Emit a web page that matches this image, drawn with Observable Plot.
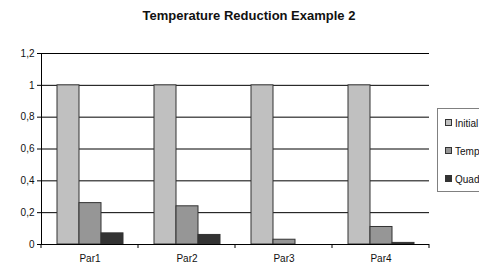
<!DOCTYPE html>
<html>
<head>
<meta charset="utf-8">
<script src="https://cdn.jsdelivr.net/npm/d3@7"></script>
<script src="https://cdn.jsdelivr.net/npm/@observablehq/plot@0.6"></script>
<style>
  html, body { margin: 0; padding: 0; background: #fff; }
  #wrap { position: relative; width: 479px; height: 267px; overflow: hidden; background: #fff;
          font-family: Arial, "Liberation Sans", sans-serif; color: #111; }
  #title { position: absolute; left: 0; width: 498px; top: 9px; text-align: center;
           font-weight: bold; font-size: 13px; line-height: 14px; }
  #chart { position: absolute; left: 0; top: 0; }
  #legend { position: absolute; left: 437px; top: 108px; width: 80px; height: 82px;
            border: 1px solid #808080; background: #fff; font-size: 10px; }
  .item { position: absolute; left: 7px; height: 12px; line-height: 12px; white-space: nowrap; }
  .sw { display: inline-block; width: 5px; height: 5px; border: 1px solid #333; margin-right: 3px; vertical-align: 1px; }
</style>
</head>
<body>
<div id="wrap">
  <div id="chart"></div>
  <div id="title">Temperature Reduction Example 2</div>
  <div id="legend"></div>
</div>
<script>
const categories = ["Par1", "Par2", "Par3", "Par4"];
const seriesNames = ["Initial", "Temperature", "Quadratic"];
const initialValues = [1, 1, 1, 1];
const temperatureValues = [0.26, 0.24, 0.03, 0.11];
const quadraticValues = [0.07, 0.06, 0, 0.01];
const yTicks = [0, 0.2, 0.4, 0.6, 0.8, 1, 1.2];
const seriesColors = ["#c0c0c0", "#969696", "#333333"];

const valuesBySeries = [initialValues, temperatureValues, quadraticValues];
const data = categories.flatMap((cat, i) =>
  seriesNames.map((s, j) => ({cat, series: s, value: valuesBySeries[j][i]}))
);
const fmt = d => d3.format("~g")(d).replace(".", ",");

const chart = Plot.plot({
  width: 479,
  height: 267,
  marginTop: 53,
  marginBottom: 23,
  marginLeft: 40,
  marginRight: 49,
  style: {fontFamily: "Arial, 'Liberation Sans', sans-serif", fontSize: "10px", color: "#111", background: "transparent"},
  fx: {domain: categories, padding: 0, label: null},
  x: {domain: seriesNames, paddingInner: 0, paddingOuter: 0.7, axis: null},
  y: {domain: [0, 1.2], label: null},
  color: {domain: seriesNames, range: seriesColors},
  marks: [
    Plot.gridY(yTicks, {stroke: "#000", strokeOpacity: 1}),
    Plot.axisY(yTicks, {tickSize: 4, tickPadding: 3, tickFormat: fmt, label: null, stroke: "#000"}),
    Plot.barY(data, {fx: "cat", x: "series", y: "value", fill: "series", stroke: "#333", strokeWidth: 1, inset: 0}),
    Plot.ruleY([0], {stroke: "#000"}),
    Plot.frame({anchor: "left", facetAnchor: "left", stroke: "#000"}),
    Plot.axisFx({anchor: "bottom", tickSize: 0, tickPadding: 10, label: null})
  ]
});
document.getElementById("chart").appendChild(chart);

// category boundary tick marks on the bottom axis, placed via Plot's fx and y scales
const fx = chart.scale("fx");
const ys = chart.scale("y");
const y0 = ys.apply(0);
const bounds = categories.map(c => fx.apply(c)).concat([fx.apply(categories[categories.length - 1]) + fx.bandwidth]);
const svg = d3.select(chart.tagName.toLowerCase() === "svg" ? chart : chart.querySelector("svg"));
svg.append("g").selectAll("line").data(bounds).join("line")
  .attr("x1", d => d).attr("x2", d => d)
  .attr("y1", y0).attr("y2", y0 + 4)
  .attr("stroke", "#000");

// legend
const legend = document.getElementById("legend");
const legendTops = [9, 37, 65];
seriesNames.forEach((s, i) => {
  const item = document.createElement("div");
  item.className = "item";
  item.style.top = legendTops[i] + "px";
  const sw = document.createElement("span");
  sw.className = "sw";
  sw.style.background = seriesColors[i];
  item.appendChild(sw);
  item.appendChild(document.createTextNode(s));
  legend.appendChild(item);
});
</script>
</body>
</html>
